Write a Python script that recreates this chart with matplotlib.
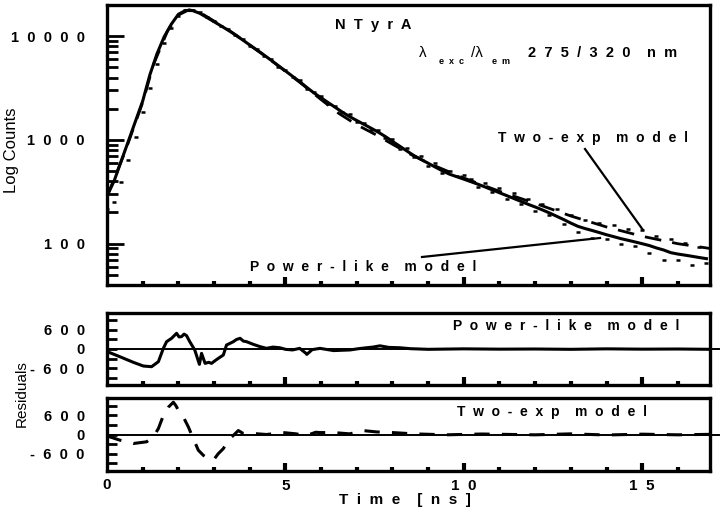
import numpy as np
import matplotlib
matplotlib.use('Agg')
import matplotlib.pyplot as plt
from matplotlib.lines import Line2D
from matplotlib.ticker import FixedLocator, NullFormatter, LogLocator, FixedFormatter

plt.rcParams['font.family'] = ['Liberation Sans', 'DejaVu Sans']

# ---------------- data ----------------
t_data = np.round(np.arange(0, 16.81, 0.2), 2)
counts_data = [216, 250, 390, 635, 1067, 1850, 3170, 5410, 8660, 12120,
               15780, 17720, 17840, 16960, 15160, 14080, 12430, 11640, 10310, 9500,
               8075, 7600, 6520, 6050, 5105, 4720, 4070, 3800, 3115, 2900,
               2680, 2245, 2120, 1850, 1765, 1495, 1470, 1235, 1250, 1035,
               1030, 812, 840, 687, 702, 567, 603, 484, 505, 452,
               461, 420, 352, 387, 314, 341, 271, 306, 243, 269,
               208, 244, 190, 217, 154, 190, 129, 171, 114, 160,
               110, 152, 99, 138, 96, 135, 82, 118, 70, 111,
               70, 101, 62, 92, 65]
power_fit = [288, 403, 628, 977, 1524, 2371, 4230, 6760, 9840, 13030,
             16270, 17720, 17660, 16630, 15160, 13800, 12560, 11410, 10310, 9220,
             8240, 7380, 6590, 5870, 5210, 4630, 4110, 3650, 3210, 2840,
             2550, 2290, 2060, 1850, 1680, 1540, 1415, 1300, 1190, 1080,
             970, 873, 785, 708, 650, 597, 548, 504, 468, 443,
             419, 396, 374, 352, 330, 310, 291, 273, 256, 240,
             226, 212, 198, 184, 171, 158, 147, 140, 134, 128,
             122, 117, 112, 108, 104, 100, 96, 91, 87, 82,
             79.5, 77.6, 75.6, 73.6, 71.8]

t_twoexp = [0, 0.5, 1.0, 1.3, 1.7, 2.0, 2.3, 2.6, 3.0, 3.5, 4.0, 4.5, 5.0, 5.5, 6.0,
            6.5, 7.0, 7.5, 8.0, 8.5, 9.0, 10.0, 11.0, 12.0, 13.0, 14.0, 15.0, 16.0, 16.9]
twoexp_fit = [285, 760, 2300, 5300, 11300, 16000, 18000, 17000, 14000, 10900, 8200, 6200,
              4600, 3380, 2450, 1800, 1400, 1140, 910, 730, 600, 430, 320, 245, 185, 145,
              118, 100, 90]

t_res_power = [0.0, 0.08, 0.36, 0.74, 1.02, 1.25, 1.44, 1.58, 1.67, 1.81, 1.95, 2.02, 2.09,
               2.16, 2.23, 2.32, 2.46, 2.59, 2.65, 2.75, 2.85, 2.93, 3.05, 3.12, 3.26, 3.35,
               3.45, 3.54, 3.63, 3.73, 3.82, 3.91, 4.10, 4.29, 4.47, 4.65, 4.84, 5.0, 5.2,
               5.4, 5.57, 5.6, 5.75, 5.97, 6.35, 6.81, 7.05, 7.28, 7.45, 7.65, 7.9, 8.2,
               8.5, 9.0, 10.0, 11.0, 12.0, 13.0, 14.0, 15.0, 16.0, 16.9]
res_power = [-100, -116, -243, -421, -537, -558, -400, 21, 231, 337, 495, 380, 390,
             470, 421, 231, -32, -484, -137, -453, -420, -453, -350, -295, -190, 126,
             180, 231, 300, 337, 250, 231, 147, 74, 21, 60, 40, -10, -30,
             20, -130, -170, -20, 20, -50, -30, 10, 40, 60, 100, 50, 40,
             10, -10, 5, -5, 0, -10, 5, -5, 0, -10]

t_res_twoexp = [0, 0.08, 0.36, 0.74, 1.11, 1.30, 1.44, 1.58, 1.72, 1.86, 1.93, 2.00, 2.14,
                2.28, 2.42, 2.56, 2.70, 2.84, 2.98, 3.12, 3.26, 3.40, 3.54, 3.68, 3.82,
                4.1, 4.47, 4.94, 5.3, 5.57, 5.85, 5.97, 6.35, 6.8, 7.19, 7.56, 8.0, 8.6,
                9.5, 10.5, 12, 13, 14, 15, 16, 16.9]
res_twoexp = [-30, -74, -176, -280, -227, -74, 185, 594, 850, 1004, 900, 750, 543,
              235, -130, -490, -647, -750, -800, -594, -440, -185, -30, 123, 30,
              30, 0, 60, 20, -40, 70, 60, 60, 20, 120, 80, 60, 20,
              -10, 15, -10, 20, -15, 10, -10, 5]

main_yticks = [100, 1000, 10000]
main_yticklabels = ['1  0  0', '1  0  0  0', '1  0  0  0  0']
res_yticks = [-900, -600, -300, 0, 300, 600, 900]
res_yticklabels = ['', '-  6  0  0', '', '0', '', '6  0  0', '']
x_major = [5, 10, 15]
x_ticklabels = ['5', '1  0', '1  5']

# ---------------- figure ----------------
W, H = 720, 512
fig = plt.figure(figsize=(7.2, 5.12), dpi=100)

def rect(l, t, r, b):
    return [l / W, 1 - b / H, (r - l) / W, (b - t) / H]

ax = fig.add_axes(rect(107, 5, 710, 285))
ax1 = fig.add_axes(rect(107, 313, 710, 385))
ax2 = fig.add_axes(rect(107, 398, 710, 471))

XMAX = 16.9
SPW = 2.4

for a in (ax, ax1, ax2):
    for s in a.spines.values():
        s.set_linewidth(SPW)
    a.set_xlim(0, XMAX)
    a.xaxis.set_major_locator(FixedLocator(x_major))
    a.xaxis.set_minor_locator(FixedLocator([i for i in range(1, 17) if i % 5]))
    a.tick_params(axis='x', which='major', direction='in', length=6, width=3,
                  top=False, bottom=True)
    a.tick_params(axis='x', which='minor', direction='in', length=3, width=3,
                  top=False, bottom=True)
    a.tick_params(axis='y', which='both', direction='in', right=False, left=True)

# main panel
ax.set_yscale('log')
ax.set_ylim(40, 20000)
ax.plot(t_data, counts_data, linestyle='none', marker='_', ms=3, mew=1.8, color='black')
ax.plot(t_twoexp, twoexp_fit, color='black', lw=2.0, dashes=(6, 4))
ax.plot(t_data, power_fit, color='black', lw=2.2)
ax.yaxis.set_major_locator(FixedLocator(main_yticks))
ax.yaxis.set_major_formatter(FixedFormatter(main_yticklabels))
ax.yaxis.set_minor_locator(LogLocator(base=10, subs=np.arange(2, 10)))
ax.yaxis.set_minor_formatter(NullFormatter())
ax.tick_params(axis='y', which='major', length=12, width=2, pad=16, labelsize=10.5)
ax.tick_params(axis='y', which='minor', length=8, width=2)
ax.set_xticklabels([])
for lb in ax.get_yticklabels():
    lb.set_fontweight('bold')

# residual panels
for a, tt, rr, ls in ((ax1, t_res_power, res_power, None),
                      (ax2, t_res_twoexp, res_twoexp, (5, 4))):
    a.set_ylim(-1135, 1135)
    a.plot([0, 17.15], [0, 0], color='black', lw=1.4, clip_on=False)
    if ls is None:
        a.plot(tt, rr, color='black', lw=2.2)
    else:
        a.plot(tt, rr, color='black', lw=2.2, dashes=ls)
    a.yaxis.set_major_locator(FixedLocator(res_yticks))
    a.yaxis.set_major_formatter(FixedFormatter(res_yticklabels))
    a.tick_params(axis='y', which='major', length=7, width=2, pad=16, labelsize=10.5)
    for lb in a.get_yticklabels():
        lb.set_fontweight('bold')

ax1.set_xticklabels([])
ax2.xaxis.set_major_formatter(FixedFormatter(x_ticklabels))
ax2.tick_params(axis='x', which='major', pad=6, labelsize=11)
for lb in ax2.get_xticklabels():
    lb.set_fontweight('bold')
ax2.text(0, -0.1, '0', transform=ax2.get_xaxis_transform(), ha='center', va='top',
         fontsize=11, fontweight='bold')

# ---------------- texts ----------------
def ft(x, y, s, **kw):
    fig.text(x / W, 1 - y / H, s, **kw)

ft(12, 150, 'Log Counts', rotation=90, ha='center', va='center', fontsize=12)
ft(22, 394, 'Residuals', rotation=90, ha='center', va='center', fontsize=11)
ft(405, 500, 'T  i  m  e    [  n  s  ]', ha='center', va='center', fontsize=11,
   fontweight='bold')

ft(373, 25, 'N  T  y  r  A', ha='center', va='center', fontsize=10.5, fontweight='bold')
ft(423, 53, 'λ', ha='center', va='center', fontsize=11)
ft(439, 62, 'e  x  c', ha='left', va='center', fontsize=6.5, fontweight='bold')
ft(471, 53, '/λ', ha='left', va='center', fontsize=11)
ft(492, 62, 'e  m', ha='left', va='center', fontsize=6.5, fontweight='bold')
ft(528, 53, '2  7  5  /  3  2  0    n  m', ha='left', va='center', fontsize=10.5,
   fontweight='bold')

ft(498, 138, 'T  w  o  -  e  x  p    m  o  d  e  l', ha='left', va='center',
   fontsize=10, fontweight='bold')
ft(250, 267, 'P  o  w  e  r  -  l  i  k  e    m  o  d  e  l', ha='left', va='center',
   fontsize=10, fontweight='bold')
ft(453, 326, 'P  o  w  e  r  -  l  i  k  e    m  o  d  e  l', ha='left', va='center',
   fontsize=10, fontweight='bold')
ft(457, 412, 'T  w  o  -  e  x  p    m  o  d  e  l', ha='left', va='center',
   fontsize=10, fontweight='bold')

def fl(x1, y1, x2, y2):
    fig.add_artist(Line2D([x1 / W, x2 / W], [1 - y1 / H, 1 - y2 / H],
                          transform=fig.transFigure, color='black', lw=1.6))

fl(585, 149, 643, 230)
fl(422, 257, 600, 238)

fig.savefig('out.png', dpi=100)
